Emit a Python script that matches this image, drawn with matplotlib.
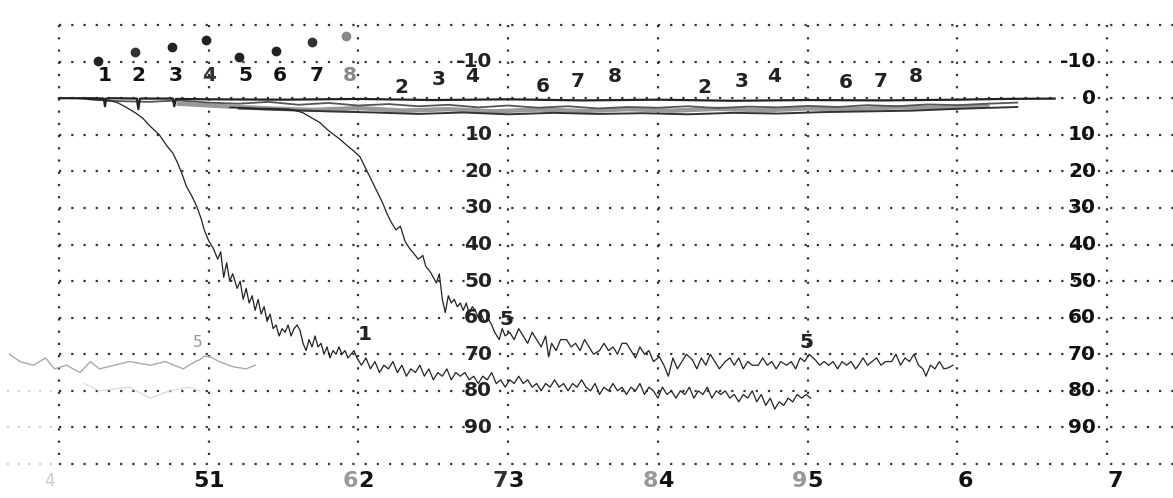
import matplotlib
matplotlib.use("Agg")
import matplotlib.pyplot as plt

# ---- data (x in time units, gridline every 10; y in %, inverted axis) ----
x_grid = [0, 10, 20, 30, 40, 50, 60, 70]
y_grid = [-20, -10, 0, 10, 20, 30, 40, 50, 60, 70, 80, 90, 100]

# bottom tick labels: first digit / second digit
x_lab_a = ["5", "6", "7", "8", "9", "", ""]
x_lab_b = ["1", "2", "3", "4", "5", "6", "7"]
x_lab_a_col = ["#111", "#999", "#333", "#999", "#999", "#111", "#111"]

mid_ylabels = ["-10", "10", "20", "30", "40", "50", "60", "70", "80", "90"]
mid_yvals = [-10, 10, 20, 30, 40, 50, 60, 70, 80, 90]
right_ylabels = ["-10", "0", "10", "20", "30", "40", "50", "60", "70", "80", "90"]
right_yvals = [-10, 0, 10, 20, 30, 40, 50, 60, 70, 80, 90]

# curve 1 (early drop)
c1_x = [0, 1, 2, 2.7, 3.5, 3.9, 4.5, 5.1, 5.6, 6.1, 6.7, 7.2, 7.6, 7.9, 8.2, 8.5, 8.9, 9.2, 9.5, 9.7, 10.0,
        10.3, 10.6, 10.8, 11.0, 11.2, 11.4, 11.6, 11.9, 12.1, 12.3, 12.5, 12.7, 12.9, 13.1, 13.3, 13.5, 13.7,
        13.9, 14.1, 14.3, 14.5, 14.7, 14.9, 15.1, 15.3, 15.5, 15.7, 15.9, 16.1, 16.3, 16.5, 16.7, 16.9, 17.1,
        17.3, 17.5, 17.7, 17.9, 18.1, 18.3, 18.5, 18.7, 18.9, 19.1, 19.3, 19.5, 19.7, 19.9, 20.2, 20.5, 20.8,
        21.1, 21.4, 21.7, 22.0, 22.3, 22.6, 22.9, 23.2, 23.5, 23.8, 24.1, 24.4, 24.7, 25.0, 25.3, 25.6, 25.9,
        26.2, 26.5, 26.8, 27.1, 27.4, 27.7, 28.0, 28.3, 28.6, 28.9, 29.2, 29.5, 29.8, 30.1, 30.4, 30.7, 31.0,
        31.3, 31.6, 31.9, 32.2, 32.5, 32.8, 33.1, 33.4, 33.7, 34.0, 34.3, 34.6, 34.9, 35.2, 35.5, 35.8, 36.1,
        36.4, 36.7, 37.0, 37.3, 37.6, 37.9, 38.2, 38.5, 38.8, 39.1, 39.4, 39.7, 40.0, 40.3, 40.6, 40.9, 41.2,
        41.5, 41.8, 42.1, 42.4, 42.7, 43.0, 43.3, 43.6, 43.9, 44.2, 44.5, 44.8, 45.1, 45.4, 45.7, 46.0, 46.3,
        46.6, 46.9, 47.2, 47.5, 47.8, 48.1, 48.4, 48.7, 49.0, 49.3, 49.6, 49.9, 50.2]
c1_y = [0, 0, 0.3, 0.5, 0.8, 1.2, 2.5, 4, 5.5, 7.7, 10, 13, 15, 17.5, 20.5, 24, 27, 29.6, 33, 36, 39,
        41, 44, 42, 49, 45, 50, 48, 52, 50, 55, 52, 56, 54, 58, 55, 59, 57,
        61, 59, 63, 62, 65, 63, 64, 62, 65, 63, 62, 63.5, 67, 69, 66, 68, 65,
        68, 67, 70, 68, 71, 69, 70, 68, 70, 69, 71, 70, 69, 71, 73, 71, 74,
        72, 75, 73, 74, 72, 75, 73, 76, 74, 75, 73, 76, 74, 77, 75, 76, 74,
        77, 75, 76, 75, 77, 76, 78, 76, 77, 75, 78, 77, 79, 77, 78, 76, 78,
        77, 79, 78, 80, 78, 79, 77, 79, 78, 80, 78, 79, 77, 79, 80, 78, 81,
        79, 80, 78, 80, 79, 81, 79, 80, 78, 81, 79, 80, 82, 79, 81, 80, 82,
        80, 81, 79, 82, 80, 81, 79, 82, 80, 81, 80, 82, 81, 83, 81, 82, 80,
        83, 81, 84, 82, 85, 83, 84, 82, 83, 81, 82, 81, 82]

# curve 2 (late drop)
c2_x = [11.4, 12.5, 13.5, 14.1, 14.8, 15.4, 15.9, 16.3, 16.8, 17.4, 17.9, 18.3, 18.7, 19.2, 19.7, 20.1, 20.4,
        20.7, 21.0, 21.3, 21.6, 21.9, 22.2, 22.5, 22.8, 23.1, 23.4, 23.7, 24.0, 24.3, 24.5, 24.8, 25.0, 25.2,
        25.4, 25.6, 25.8, 26.0, 26.2, 26.4, 26.6, 26.8, 27.0, 27.2, 27.4, 27.6, 27.8, 28.0, 28.2, 28.4, 28.7,
        28.9, 29.1, 29.4, 29.6, 29.8, 30.1, 30.4, 30.7, 31.0, 31.3, 31.6, 31.9, 32.2, 32.5, 32.7, 32.9, 33.2,
        33.5, 33.9, 34.2, 34.5, 34.8, 35.1, 35.4, 35.7, 36.1, 36.4, 36.7, 37.0, 37.3, 37.6, 37.9, 38.2, 38.5,
        38.8, 39.1, 39.4, 39.7, 40.1, 40.4, 40.7, 41.0, 41.3, 41.6, 41.9, 42.3, 42.6, 42.9, 43.2, 43.5, 43.8,
        44.1, 44.5, 44.8, 45.1, 45.4, 45.7, 46.0, 46.3, 46.7, 47.0, 47.3, 47.6, 47.9, 48.2, 48.6, 48.9, 49.2,
        49.5, 49.8, 50.1, 50.5, 50.8, 51.1, 51.4, 51.7, 52.0, 52.3, 52.6, 52.9, 53.2, 53.4, 53.7, 54.0, 54.3,
        54.6, 54.9, 55.2, 55.6, 55.9, 56.2, 56.5, 56.8, 57.1, 57.4, 57.7, 57.9, 58.2, 58.5, 58.8, 59.1, 59.4,
        59.7]
c2_y = [2.5, 2.6, 2.8, 2.8, 2.9, 3.0, 3.5, 4.0, 5.2, 6.6, 8.5, 9.8, 11, 12.8, 14.5, 16, 18.5,
        21, 23.5, 26, 28.5, 31.5, 34, 36, 35, 39, 41, 42.5, 44, 43, 46, 47.5, 49, 50.5,
        48, 55, 58.6, 54, 56, 55, 57, 56, 58, 56, 59, 57, 58, 60, 59, 61, 60.5,
        62, 64, 66, 63, 65, 64, 66, 63, 65, 67, 64, 66, 68, 65, 70.7, 67, 69,
        66, 66, 68, 67, 69, 66, 68, 70, 69, 67, 69, 68, 70, 67, 67, 69, 71,
        68, 70, 69, 72, 70.7, 73, 76, 71, 74, 72, 70, 71.5, 74, 71, 73, 70, 72,
        74, 72, 71, 73, 71, 74, 72, 73, 73, 71, 73, 72, 74, 72, 73, 72, 74,
        71, 72, 70, 71.5, 73, 72, 73, 72, 74, 72, 73, 72, 74, 73, 71, 73, 72,
        71, 73, 72, 72, 70, 73, 71, 72, 70, 73, 74, 76, 73, 74, 72, 74, 73.7,
        73]

# faint grey trace on the left
c3_x = [-3.3, -2.6, -1.7, -0.9, -0.3, 0.5, 1.4, 2.1, 2.7, 3.7, 4.7, 6.1, 7.1, 8.3, 9.1, 9.4, 9.7, 10.1,
        10.7, 11.6, 12.5, 13.1]
c3_y = [70, 72, 73, 71, 74, 73, 75, 72, 74, 73, 72, 73, 72, 74, 72, 71.5, 70.5, 70.7, 72, 73.4, 74, 73]
c4_x = [1.7, 2.7, 4.7, 6.1, 7.4, 8.7, 9.4]
c4_y = [78, 80, 79, 82, 80, 79, 80]

# baseline cluster
b0_x = [0, 2.5, 3.0, 3.07, 3.15, 3.6, 5.2, 5.3, 5.4, 7.6, 7.7, 7.8, 10, 15, 20, 25, 30, 35, 40, 45, 50,
        55, 60, 63, 66.5]
b0_y = [0, 0, 0.1, 2.2, 0.1, 0, 0.1, 3.0, 0.1, 0.1, 2.2, 0.2, 0.3, 0.4, 0.2, 0.5, 0.3, 0.6, 0.4, 0.7,
        0.5, 0.6, 0.4, 0.2, 0.1]
b1_x = [2, 4, 6, 8, 10, 12, 14, 16, 18, 20, 22, 24, 26, 28, 30, 32, 34, 36, 38, 40, 42, 44, 46, 48, 50,
        52, 54, 56, 58, 60, 62, 64]
b1_y = [0.3, 0.8, 1.0, 0.6, 1.2, 1.5, 1.0, 1.8, 1.3, 2.0, 1.6, 2.2, 1.8, 2.5, 2.0, 2.6, 2.2, 2.8, 2.4,
        2.6, 2.2, 2.7, 2.3, 2.5, 2.1, 2.4, 1.9, 2.2, 1.7, 1.9, 1.5, 1.2]
b2_x = [8, 11, 14, 17, 20, 23, 26, 29, 32, 35, 38, 41, 44, 47, 50, 53, 56, 59, 62]
b2_y = [1.5, 2.2, 2.8, 3.2, 2.7, 3.4, 3.0, 3.6, 3.1, 3.5, 3.0, 3.4, 2.9, 3.3, 2.8, 3.0, 2.5, 2.6, 2.0]
b3_x = [12, 15, 18, 21, 24, 27, 30, 33, 36, 39, 42, 45, 48, 51, 54, 57, 60, 64]
b3_y = [2.8, 3.2, 3.6, 3.9, 4.3, 3.9, 4.4, 4.0, 4.3, 4.1, 4.4, 4.0, 4.2, 3.8, 3.6, 3.4, 2.9, 2.4]

# markers and numbered labels
mk_x = [2.6, 5.07, 7.53, 9.8, 12.0, 14.47, 16.87, 19.2]
mk_y = [-10.1, -12.6, -14, -15.9, -11.2, -12.9, -15.3, -17]
mk_col = ["#222", "#333", "#222", "#222", "#222", "#222", "#333", "#888"]
g1_text = ["1", "2", "3", "4", "5", "6", "7", "8"]
g1_x = [3.07, 5.33, 7.8, 10.0, 12.47, 14.73, 17.2, 19.4]
g1_y = [-6.3] * 8
g1_col = ["#111", "#111", "#111", "#333", "#111", "#111", "#111", "#888"]
g2_text = ["2", "3", "4", "6", "7", "8"]
g2_x = [22.87, 25.33, 27.6, 32.33, 34.67, 37.13]
g2_y = [-3, -5.2, -5.8, -3.3, -4.7, -6]
g3_text = ["2", "3", "4", "6", "7", "8"]
g3_x = [43.07, 45.6, 47.73, 52.53, 54.87, 57.2]
g3_y = [-3, -4.7, -5.8, -4.4, -4.7, -6]
ann_text = ["1", "5", "5", "5"]
ann_x = [20.4, 9.27, 29.9, 49.93]
ann_y = [64.7, 66.8, 60.5, 66.8]

# ---- figure ----
fig = plt.figure(figsize=(11.73, 4.98), dpi=100)
ax = fig.add_axes([0, 0, 1, 1])
ax.set_xlim(-3.94, 74.4)
ax.set_ylim(109.3, -26.85)
ax.axis("off")

dots = (0, (1, 4.5))
ax.vlines(x_grid, y_grid[0], y_grid[-1], colors="#333", linestyles=dots, linewidth=1.6, zorder=1)
ax.hlines(y_grid, x_grid[0], 74.4, colors="#333", linestyles=dots, linewidth=1.6, zorder=1)
ax.hlines([80, 90, 100], -3.5, 0, colors="#ccc", linestyles=dots, linewidth=1.4, zorder=1)

ax.plot(c4_x, c4_y, color="#ddd", lw=1, zorder=2)
ax.plot(c3_x, c3_y, color="#aaa", lw=1, zorder=2)
ax.plot(b2_x, b2_y, color="#999", lw=3.2, zorder=2)
ax.plot(b1_x, b1_y, color="#555", lw=1.3, zorder=2)
ax.plot(b3_x, b3_y, color="#333", lw=1.4, zorder=2)
ax.plot(b0_x, b0_y, color="#222", lw=1.6, zorder=2)
ax.plot(c1_x, c1_y, color="#222", lw=0.9, zorder=2)
ax.plot(c2_x, c2_y, color="#222", lw=0.9, zorder=2)

for x, y, c in zip(mk_x, mk_y, mk_col):
    ax.plot(x, y, "o", color=c, markersize=6, zorder=3)

font = dict(family="DejaVu Sans", fontweight="bold", fontsize=14.5, ha="center", va="center", zorder=4)
for t, x, y, c in zip(g1_text, g1_x, g1_y, g1_col):
    ax.text(x, y, t, color=c, **font)
for t, x, y in zip(g2_text, g2_x, g2_y):
    ax.text(x, y, t, color="#222", **font)
for t, x, y in zip(g3_text, g3_x, g3_y):
    ax.text(x, y, t, color="#222", **font)
for t, x, y in zip(ann_text, ann_x, ann_y):
    if x < 10:
        ax.text(x, y, t, color="#999", fontsize=11, ha="center", va="center", zorder=4)
    else:
        ax.text(x, y, t, color="#222", **font)

# y tick labels (two columns inside the plot)
for lab, v in zip(mid_ylabels, mid_yvals):
    ax.annotate(lab, (30, v), xytext=(-16, 0), textcoords="offset pixels", ha="right", va="center",
                fontsize=14.5, fontweight="bold", color="#222", zorder=4)
for lab, v in zip(right_ylabels, right_yvals):
    ax.annotate(lab, (70, v), xytext=(-11, 0), textcoords="offset pixels", ha="right", va="center",
                fontsize=14.5, fontweight="bold", color="#111", zorder=4)

# x tick labels below
for x, a, b, ca in zip(x_grid[1:], x_lab_a, x_lab_b, x_lab_a_col):
    if a:
        ax.annotate(a, (x, 104.6), xytext=(0, 0), textcoords="offset pixels", ha="right", va="center",
                    fontsize=16, fontweight="bold", color=ca)
    ax.annotate(b, (x, 104.6), xytext=(0, 0), textcoords="offset pixels", ha="left", va="center",
                fontsize=16, fontweight="bold", color="#111")
ax.annotate("4", (0, 104.6), xytext=(-4, 0), textcoords="offset pixels", ha="right", va="center",
            fontsize=12, color="#ccc")

fig.savefig("out.png", dpi=100)
